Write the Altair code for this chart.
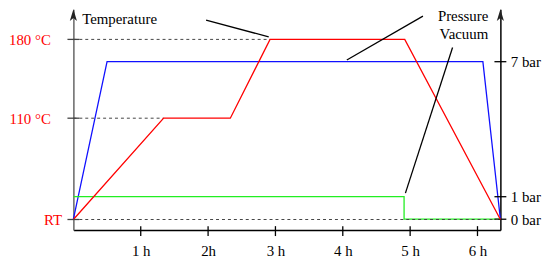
import altair as alt
import pandas as pd

# ---- data ----
temp_hours = [0, 1.34, 2.33, 2.92, 4.92, 6.34]
temp_values = [20, 110, 110, 180, 180, 20]          # °C, RT taken as 20 °C

press_hours = [0, 0.5, 6.08, 6.34]
press_values = [0, 7, 7, 0]                          # bar

vac_hours = [0, 4.91, 4.91, 6.34]
vac_values = [1, 1, 0, 0]                            # bar

hour_ticks = [1, 2, 3, 4, 5, 6]
hour_labels = ["1 h", "2h", "3 h", "4 h", "5 h", "6 h"]
temp_ticks = [20, 110, 180]
temp_labels = ["RT", "110 °C", "180 °C"]
press_ticks = [0, 1, 7]
press_labels = ["0 bar", "1 bar", "7 bar"]

guide_levels = [20, 110, 180]
guide_ends = [6.34, 1.34, 2.92]

note_left = ["Temperature"]
note_left_x = [0.13]
note_left_y = [198]
note_right = ["Pressure", "Vacuum"]
note_right_x = [6.16, 6.16]
note_right_y = [200.7, 184.9]

leader_x = [1.97, 5.19, 5.63]
leader_y = [197.2, 200.7, 172.8]
leader_x2 = [2.90, 4.06, 4.93]
leader_y2 = [182.2, 161.7, 43.4]

X_MAX = 6.34
T_DOM = [10.58, 206.85]
P_DOM = [-0.484, 9.334]

FONT = "Liberation Serif"
FS = 15
NBSP = "\u00a0"
ZWSP = "\u200b"


def label_expr(vals, labels, pad_units=None):
    expr = "''"
    for v, l in zip(vals, labels):
        if pad_units and l != "RT":
            l = l + NBSP * pad_units + ZWSP
        expr = f"datum.value == {v} ? '{l}' : ({expr})"
    return expr


x_scale = alt.Scale(domain=[0, X_MAX], nice=False, zero=False)
t_scale = alt.Scale(domain=T_DOM, nice=False, zero=False)
p_scale = alt.Scale(domain=P_DOM, nice=False, zero=False)

temp_df = pd.DataFrame({"h": temp_hours, "v": temp_values, "i": range(len(temp_hours))})
press_df = pd.DataFrame({"h": press_hours, "v": press_values, "i": range(len(press_hours))})
vac_df = pd.DataFrame({"h": vac_hours, "v": vac_values, "i": range(len(vac_hours))})
guide_df = pd.DataFrame({"lvl": guide_levels, "end": guide_ends, "start": [0] * len(guide_levels)})
leader_df = pd.DataFrame({"x": leader_x, "y": leader_y, "x2": leader_x2, "y2": leader_y2})
nl_df = pd.DataFrame({"t": note_left, "x": note_left_x, "y": note_left_y})
nr_df = pd.DataFrame({"t": note_right, "x": note_right_x, "y": note_right_y})
arrow_df = pd.DataFrame({"x": [0, X_MAX], "y": [T_DOM[1]] * 2})
lt_df = pd.DataFrame({"x": [0] * len(temp_ticks), "y": temp_ticks})
xt_df = pd.DataFrame({"x": hour_ticks, "y": [T_DOM[0]] * len(hour_ticks)})
rt_df = pd.DataFrame({"x": [X_MAX] * len(press_ticks), "y": press_ticks})

x_axis = alt.Axis(values=hour_ticks, labelExpr=label_expr(hour_ticks, hour_labels),
                  ticks=False, domainColor="black", domainWidth=1.5, labelPadding=14,
                  labelColor="black", grid=False, title=None, labelFlush=False,
                  labelOverlap=False, orient="bottom")
t_axis = alt.Axis(values=temp_ticks, labelExpr=label_expr(temp_ticks, temp_labels, 3),
                  ticks=False, domainColor="#666666", domainWidth=1.5, labelColor="#ff0000",
                  labelPadding=12, grid=False, title=None, labelFlush=False,
                  labelOverlap=False, orient="left")
p_axis = alt.Axis(values=press_ticks, labelExpr=label_expr(press_ticks, press_labels),
                  ticks=False, domainColor="black", domainWidth=1.5, labelColor="black",
                  labelPadding=10, grid=False, title=None, labelFlush=False,
                  labelOverlap=False, orient="right")


def X(field):
    return alt.X(field, scale=x_scale, axis=x_axis)


def YT(field):
    return alt.Y(field, scale=t_scale, axis=t_axis)


def YP(field):
    return alt.Y(field, scale=p_scale, axis=p_axis)


# ---- pressure / vacuum layer (right axis) ----
blue = alt.Chart(press_df).mark_line(color="#1010ff", strokeWidth=1.3).encode(
    x=X("h:Q"), y=YP("v:Q"), order="i:Q",
)
green = alt.Chart(vac_df).mark_line(color="#22ee22", strokeWidth=1.3).encode(
    x=X("h:Q"), y=YP("v:Q"), order="i:Q",
)
right_ticks = alt.Chart(rt_df).mark_point(shape="M-1,0L1,0", filled=False, size=144,
                                          strokeWidth=1.3, color="black", opacity=1).encode(
    x=X("x:Q"), y=YP("y:Q"),
)
press_layer = alt.layer(blue, green, right_ticks)

# ---- temperature layer (left axis) ----
guides = alt.Chart(guide_df).mark_rule(strokeDash=[3, 3], color="#444444", strokeWidth=1).encode(
    x=X("start:Q"), x2="end:Q", y=YT("lvl:Q"),
)
red = alt.Chart(temp_df).mark_line(color="#ff0000", strokeWidth=1.3).encode(
    x=X("h:Q"), y=YT("v:Q"), order="i:Q",
)
leaders = alt.Chart(leader_df).mark_rule(color="black", strokeWidth=1.3).encode(
    x=X("x:Q"), x2="x2:Q", y=YT("y:Q"), y2="y2:Q",
)
notes_l = alt.Chart(nl_df).mark_text(align="left", baseline="middle", font=FONT,
                                     fontSize=FS, color="black").encode(
    x=X("x:Q"), y=YT("y:Q"), text="t:N",
)
notes_r = alt.Chart(nr_df).mark_text(align="right", baseline="middle", font=FONT,
                                     fontSize=FS, color="black").encode(
    x=X("x:Q"), y=YT("y:Q"), text="t:N",
)
arrows = alt.Chart(arrow_df).mark_point(shape="M0,0L0.6,2L0,1.5L-0.6,2Z", filled=True,
                                        size=144, color="#222222", opacity=1).encode(
    x=X("x:Q"), y=YT("y:Q"),
)
left_ticks = alt.Chart(lt_df).mark_point(shape="M-1,0L1,0", filled=False, size=144,
                                         strokeWidth=1.3, color="#444444", opacity=1).encode(
    x=X("x:Q"), y=YT("y:Q"),
)
x_ticks = alt.Chart(xt_df).mark_point(shape="M0,-0.8L0,1.2", filled=False, size=100,
                                      strokeWidth=1.3, color="black", opacity=1).encode(
    x=X("x:Q"), y=YT("y:Q"),
)
temp_layer = alt.layer(guides, red, leaders, notes_l, notes_r, arrows, left_ticks, x_ticks)

chart = alt.layer(press_layer, temp_layer).resolve_scale(y="independent").properties(
    width=431,
    height=223,
    padding={"left": 66, "top": 0, "right": 42, "bottom": 30},
    autosize=alt.AutoSizeParams(type="none"),
).configure_view(stroke=None).configure_axis(
    labelFont=FONT, labelFontSize=FS
)

chart.save("out.html", embed_options={"renderer": "svg", "actions": False})
